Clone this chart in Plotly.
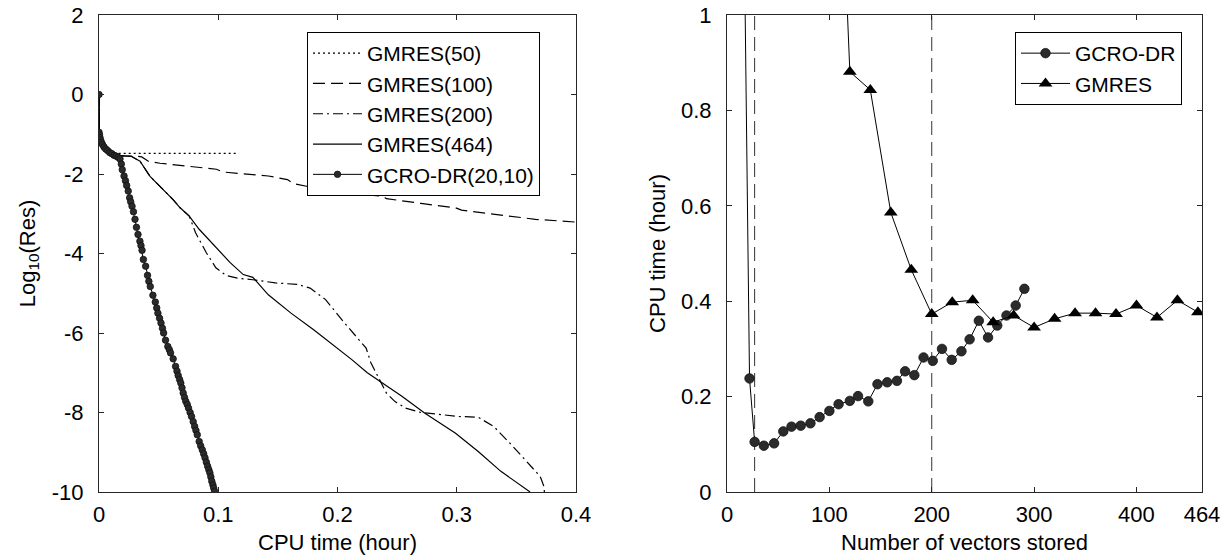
import plotly.graph_objects as go

# ---------------- Left panel data ----------------
g50_x = [0, 0.0003, 0.002, 0.005, 0.009, 0.0135, 0.1167]
g50_y = [0, -0.95, -1.20, -1.35, -1.44, -1.48, -1.48]

g100_x = [0, 0.0003, 0.002, 0.005, 0.009, 0.0135, 0.0176, 0.0274, 0.031, 0.0358, 0.0414, 0.0512,
          0.071, 0.0875, 0.0985, 0.1042, 0.116, 0.142, 0.158, 0.163, 0.187, 0.219, 0.238, 0.241,
          0.270, 0.299, 0.304, 0.334, 0.360, 0.366, 0.400, 0.41]
g100_y = [0, -0.95, -1.20, -1.35, -1.44, -1.50, -1.54, -1.55, -1.55, -1.57, -1.68, -1.73,
          -1.80, -1.85, -1.88, -1.95, -1.98, -2.05, -2.14, -2.24, -2.39, -2.51, -2.56, -2.62,
          -2.74, -2.85, -2.91, -3.02, -3.10, -3.14, -3.21, -3.23]

g200_x = [0, 0.0003, 0.002, 0.005, 0.009, 0.0135, 0.0176, 0.0274, 0.0344, 0.0428, 0.0512, 0.0623,
          0.068, 0.0757, 0.081, 0.090, 0.098, 0.1065, 0.116, 0.129, 0.148, 0.167, 0.177, 0.190,
          0.206, 0.219, 0.224, 0.228, 0.235, 0.241, 0.248, 0.257, 0.270, 0.286, 0.302, 0.318,
          0.331, 0.347, 0.360, 0.370, 0.373, 0.3735]
g200_y = [0, -0.95, -1.20, -1.35, -1.44, -1.50, -1.54, -1.56, -1.68, -2.06, -2.31, -2.65,
          -2.85, -3.06, -3.48, -3.98, -4.36, -4.55, -4.62, -4.66, -4.74, -4.78, -4.87, -5.16,
          -5.75, -6.21, -6.38, -6.75, -7.17, -7.51, -7.72, -7.89, -8.00, -8.05, -8.10, -8.12,
          -8.35, -8.85, -9.27, -9.61, -9.85, -10.0]

g464_x = [0, 0.0003, 0.002, 0.005, 0.009, 0.0135, 0.0176, 0.0274, 0.0344, 0.0428, 0.0512, 0.0623,
          0.068, 0.0757, 0.084, 0.097, 0.110, 0.121, 0.129, 0.142, 0.161, 0.180, 0.200, 0.212,
          0.225, 0.238, 0.254, 0.273, 0.299, 0.318, 0.337, 0.3615]
g464_y = [0, -0.95, -1.20, -1.35, -1.44, -1.50, -1.54, -1.56, -1.68, -2.06, -2.31, -2.65,
          -2.85, -3.06, -3.39, -3.81, -4.23, -4.53, -4.60, -5.04, -5.50, -5.92, -6.38, -6.67,
          -7.00, -7.26, -7.59, -8.01, -8.52, -8.98, -9.48, -10.0]

gcro_x = [0, 0, 0.0004, 0.0008, 0.0012, 0.002, 0.003, 0.0042, 0.0056, 0.0072, 0.009, 0.0108,
          0.0126, 0.0143, 0.016, 0.0176, 0.0187, 0.0195, 0.021, 0.0222, 0.0232, 0.0245, 0.0257,
          0.0266, 0.0277, 0.0289, 0.0302, 0.0314, 0.0327, 0.0343, 0.0352, 0.0361, 0.0372, 0.0391,
          0.0407, 0.0418, 0.0430, 0.0452, 0.0472, 0.0484, 0.0494, 0.0508, 0.0520, 0.0532, 0.0542,
          0.0558, 0.0577, 0.0590, 0.0600, 0.0622, 0.0642, 0.0654, 0.0664, 0.0676, 0.0686, 0.0696,
          0.0706, 0.0717, 0.0728, 0.0740, 0.0751, 0.0764, 0.0776, 0.0790, 0.0802, 0.0813, 0.0824,
          0.0840, 0.0853, 0.0866, 0.0878, 0.0889, 0.0900, 0.0911, 0.0921, 0.0930, 0.0938, 0.0946,
          0.0955, 0.0962, 0.0969]
gcro_y = [0, -0.95, -1.01, -1.08, -1.14, -1.20, -1.26, -1.32, -1.37, -1.41, -1.46, -1.49,
          -1.53, -1.55, -1.58, -1.62, -1.75, -1.89, -2.05, -2.17, -2.29, -2.43, -2.60,
          -2.70, -2.81, -2.95, -3.14, -3.34, -3.52, -3.69, -3.80, -3.92, -4.15, -4.32,
          -4.55, -4.70, -4.83, -5.05, -5.22, -5.37, -5.50, -5.63, -5.75, -5.88, -6.00,
          -6.18, -6.34, -6.42, -6.50, -6.65, -6.84, -6.96, -7.07, -7.17, -7.26, -7.38,
          -7.51, -7.62, -7.72, -7.80, -7.89, -8.00, -8.10, -8.23, -8.35, -8.45, -8.56,
          -8.73, -8.84, -8.94, -9.04, -9.14, -9.25, -9.35, -9.44, -9.52, -9.62, -9.73,
          -9.82, -9.90, -9.98]

left_xticks = [0, 0.1, 0.2, 0.3, 0.4]
left_yticks = [2, 0, -2, -4, -6, -8, -10]

# ---------------- Right panel data ----------------
r_gcro_x = [10, 22, 27, 36, 46, 55, 63, 72, 81.5, 90.5, 100, 109, 120, 128, 138, 147, 156.5,
            166, 174, 183, 192, 201, 210, 219.5, 229, 237, 246, 255, 264, 273, 282, 290.5]
r_gcro_y = [2.4, 0.238, 0.105, 0.097, 0.102, 0.127, 0.137, 0.139, 0.144, 0.157, 0.170, 0.184,
            0.191, 0.201, 0.190, 0.226, 0.230, 0.233, 0.253, 0.245, 0.282, 0.275, 0.300, 0.277,
            0.295, 0.320, 0.359, 0.324, 0.349, 0.370, 0.391, 0.426]

r_gmres_x = [100, 120, 140, 160, 180, 200, 220, 240, 260, 280, 300, 320, 340, 360, 380, 400,
             420, 440, 460]
r_gmres_y = [1.92, 0.881, 0.843, 0.586, 0.466, 0.373, 0.398, 0.402, 0.356, 0.370, 0.345, 0.363,
             0.375, 0.375, 0.373, 0.391, 0.366, 0.402, 0.377]

right_xticks = [0, 100, 200, 300, 400, 464]
right_yticks = [0, 0.2, 0.4, 0.6, 0.8, 1]
vlines_x = [27, 200]

# ---------------- Figure ----------------
FONT = "Liberation Sans, Arial, Helvetica, sans-serif"
AX = "#262626"
OFF = 8                       # page body margin of the html page
W, H = 1228 - OFF, 555 - OFF  # figure size so that it fits the window
# target screen positions of the axes boxes
L_LEFT, L_RIGHT, R_LEFT, R_RIGHT, TOP, BOTTOM = 99, 576, 727, 1202, 15, 492
ML = L_LEFT - OFF
MR = W - (R_RIGHT - OFF)
MT = TOP - OFF
MB = H - (BOTTOM - OFF)
PW, PH = W - ML - MR, H - MT - MB


def px_x(p):
    return (p - L_LEFT) / PW


def px_y(p):
    return (BOTTOM - p) / PH


fig = go.Figure()

fig.add_trace(go.Scatter(x=g50_x, y=g50_y, mode="lines", name="GMRES(50)",
                         line=dict(color="black", width=1.2, dash="2px,3px"),
                         xaxis="x", yaxis="y", legend="legend"))
fig.add_trace(go.Scatter(x=g100_x, y=g100_y, mode="lines", name="GMRES(100)",
                         line=dict(color="black", width=1.2, dash="12px,6px"),
                         xaxis="x", yaxis="y", legend="legend"))
fig.add_trace(go.Scatter(x=g200_x, y=g200_y, mode="lines", name="GMRES(200)",
                         line=dict(color="black", width=1.2, dash="10px,4px,2px,4px"),
                         xaxis="x", yaxis="y", legend="legend"))
fig.add_trace(go.Scatter(x=g464_x, y=g464_y, mode="lines", name="GMRES(464)",
                         line=dict(color="black", width=1.2),
                         xaxis="x", yaxis="y", legend="legend"))
fig.add_trace(go.Scatter(x=gcro_x, y=gcro_y, mode="lines+markers", name="GCRO-DR(20,10)",
                         line=dict(color="black", width=1),
                         marker=dict(symbol="circle", size=6.5, color="#2b2b2b",
                                     line=dict(color="#111111", width=0.8)),
                         xaxis="x", yaxis="y", legend="legend"))

fig.add_trace(go.Scatter(x=r_gcro_x, y=r_gcro_y, mode="lines+markers", name="GCRO-DR",
                         line=dict(color="black", width=1),
                         marker=dict(symbol="circle", size=9.5, color="#2b2b2b",
                                     line=dict(color="#111111", width=0.8)),
                         xaxis="x2", yaxis="y2", legend="legend2"))
fig.add_trace(go.Scatter(x=r_gmres_x, y=r_gmres_y, mode="lines+markers", name="GMRES",
                         line=dict(color="black", width=1),
                         marker=dict(symbol="triangle-up", size=12, color="black"),
                         xaxis="x2", yaxis="y2", legend="legend2"))

for xv in vlines_x:
    fig.add_shape(type="line", xref="x2", yref="y2", x0=xv, x1=xv, y0=0, y1=1,
                  line=dict(color="#333333", width=1, dash="14px,7px"), layer="below")

ax_common = dict(showline=True, linecolor=AX, linewidth=1, mirror="ticks",
                 ticks="inside", ticklen=5, tickcolor=AX, tickwidth=1,
                 showgrid=False, zeroline=False, automargin=False,
                 ticklabeloverflow="allow",
                 tickfont=dict(family=FONT, size=22, color="black"))

fig.update_layout(
    width=W, height=H, autosize=False,
    margin=dict(l=ML, r=MR, t=MT, b=MB, pad=0),
    paper_bgcolor="white", plot_bgcolor="white",
    font=dict(family=FONT, size=21, color="black"),
    xaxis=dict(domain=[px_x(L_LEFT), px_x(L_RIGHT)], range=[0, 0.4], tickvals=left_xticks,
               ticktext=["0", "0.1", "0.2", "0.3", "0.4"], anchor="y",
               ticklabelstandoff=3,
               title=dict(text="CPU time (hour)", standoff=11, font=dict(size=22)),
               **ax_common),
    yaxis=dict(domain=[0, 1], range=[-10, 2], tickvals=left_yticks,
               ticktext=["2", "0", "-2", "-4", "-6", "-8", "-10"], anchor="x",
               ticklabelstandoff=10,
               title=dict(text="Log<sub>10</sub>(Res)", standoff=10, font=dict(size=22)),
               **ax_common),
    xaxis2=dict(domain=[px_x(R_LEFT), px_x(R_RIGHT)], range=[0, 464], tickvals=right_xticks,
                ticktext=[str(v) for v in right_xticks], anchor="y2",
                ticklabelstandoff=3,
                title=dict(text="Number of vectors stored", standoff=11, font=dict(size=22)),
                **ax_common),
    yaxis2=dict(domain=[0, 1], range=[0, 1], tickvals=right_yticks,
                ticktext=["0", "0.2", "0.4", "0.6", "0.8", "1"], anchor="x2",
                ticklabelstandoff=10,
                title=dict(text="CPU time (hour)", standoff=9, font=dict(size=22)),
                **ax_common),
    legend=dict(x=px_x(307), y=px_y(32), xanchor="left", yanchor="top",
                bordercolor="black", borderwidth=1, bgcolor="white",
                font=dict(family=FONT, size=21, color="black"),
                itemwidth=49, tracegroupgap=0),
    legend2=dict(x=px_x(1015), y=px_y(32), xanchor="left", yanchor="top",
                 bordercolor="black", borderwidth=1, bgcolor="white",
                 font=dict(family=FONT, size=21, color="black"),
                 itemwidth=49, tracegroupgap=0),
    showlegend=True,
)

fig.write_html("out.html")
